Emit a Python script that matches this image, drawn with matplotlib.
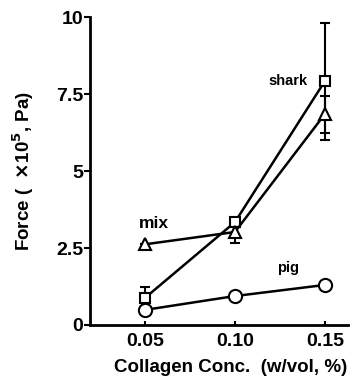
import matplotlib
matplotlib.use('Agg')
import matplotlib.pyplot as plt

plt.rcParams['font.family'] = ['Liberation Sans', 'DejaVu Sans']
plt.rcParams['font.weight'] = 'bold'

conc = [0.05, 0.10, 0.15]
shark = [0.88, 3.34, 7.92]
shark_err = [0.35, 0.0, 1.9]
mix = [2.62, 3.02, 6.85]
mix_err = [0.0, 0.35, 0.6]
pig = [0.49, 0.94, 1.3]
pig_err = [0.0, 0.0, 0.0]

fig = plt.figure(figsize=(3.5, 3.79), dpi=100)
ax = fig.add_axes([0.257, 0.1425, 0.737, 0.8125])

style = dict(color='black', lw=1.8, mfc='white', mec='black', mew=1.5,
             capsize=3.5, elinewidth=1.5, capthick=1.5)
ax.errorbar(conc, shark, yerr=shark_err, marker='s', ms=7, **style)
ax.errorbar(conc, mix, yerr=mix_err, marker='^', ms=8, **style)
ax.errorbar(conc, pig, yerr=pig_err, marker='o', ms=9.5, **style)

ax.text(0.1295, 7.92, 'shark', fontsize=10.5, fontweight='bold', ha='center', va='center')
ax.text(0.055, 3.3, 'mix', fontsize=12.5, fontweight='bold', ha='center', va='center')
ax.text(0.1295, 1.85, 'pig', fontsize=10.5, fontweight='bold', ha='center', va='center')

ax.set_xlim(0.0194, 0.1628)
ax.set_ylim(0, 10)
ax.set_xticks(conc)
ax.set_xticklabels(['0.05', '0.10', '0.15'])
ax.set_yticks([0, 2.5, 5, 7.5, 10])
ax.set_yticklabels(['0', '2.5', '5', '7.5', '10'])
ax.tick_params(axis='y', labelsize=14, width=1.5, length=4, pad=1)
ax.tick_params(axis='x', labelsize=14, width=1.5, length=3, direction='in', pad=6)
for lbl in ax.get_xticklabels() + ax.get_yticklabels():
    lbl.set_fontweight('bold')

for s in ['top', 'right']:
    ax.spines[s].set_visible(False)
for s in ['left', 'bottom']:
    ax.spines[s].set_linewidth(2)

ax.set_xlabel('Collagen Conc.  (w/vol, %)', fontsize=13.5, fontweight='bold')
ax.xaxis.set_label_coords(0.545, -0.112)
ax.set_ylabel(r'Force (  $\times$10$^{5}$, Pa)', fontsize=13.5, fontweight='bold')
ax.yaxis.set_label_coords(-0.21, 0.5)

fig.savefig('out.png', dpi=100)
